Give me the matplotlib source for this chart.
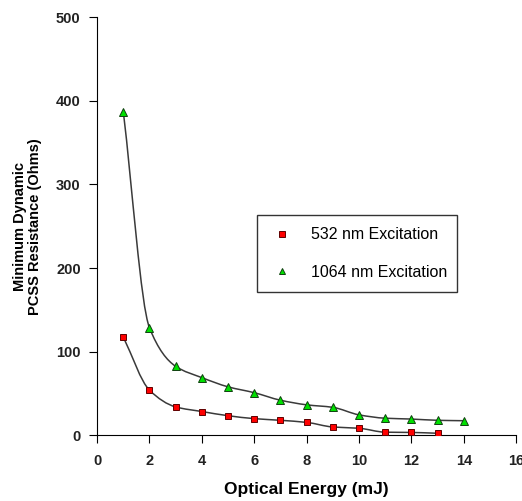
import numpy as np
import matplotlib.pyplot as plt
from matplotlib.path import Path
from matplotlib.patches import PathPatch

plt.rcParams['font.family'] = ['Liberation Sans', 'DejaVu Sans']

# dados
energia_532 = [1, 2, 3, 4, 5, 6, 7, 8, 9, 10, 11, 12, 13]
res_532 = [117.5, 54, 34, 28.5, 23.5, 20, 18, 15.5, 10, 8.5, 3.8, 3.5, 2.5]
energia_1064 = [1, 2, 3, 4, 5, 6, 7, 8, 9, 10, 11, 12, 13, 14]
res_1064 = [387, 128.5, 82.5, 69, 58, 51, 42, 36.5, 33.5, 24.5, 20.5, 19.5, 18, 17.5]


def curva_suave(x, y):
    # curva monotona (Fritsch-Carlson) desenhada como bezier
    x = np.asarray(x, float)
    y = np.asarray(y, float)
    h = np.diff(x)
    d = np.diff(y) / h
    m = np.zeros_like(y)
    m[0] = d[0]
    m[-1] = d[-1]
    for i in range(1, len(y) - 1):
        if d[i - 1] * d[i] <= 0:
            m[i] = 0
        else:
            w1 = 2 * h[i] + h[i - 1]
            w2 = h[i] + 2 * h[i - 1]
            m[i] = (w1 + w2) / (w1 / d[i - 1] + w2 / d[i])
    verts = [(x[0], y[0])]
    codes = [Path.MOVETO]
    for i in range(len(x) - 1):
        verts += [(x[i] + h[i] / 3, y[i] + m[i] * h[i] / 3),
                  (x[i + 1] - h[i] / 3, y[i + 1] - m[i + 1] * h[i] / 3),
                  (x[i + 1], y[i + 1])]
        codes += [Path.CURVE4] * 3
    return Path(verts, codes)


fig = plt.figure(figsize=(5.22, 5.01), dpi=100)
ax = fig.add_axes([0.186, 0.131, 0.803, 0.835])

for x, y in [(energia_532, res_532), (energia_1064, res_1064)]:
    ax.add_patch(PathPatch(curva_suave(x, y), facecolor='none',
                           edgecolor='#3a3a3a', lw=1.1, zorder=2))

ax.plot(energia_532, res_532, ls='none', marker='s', ms=5, mfc='#ff0000',
        mec='#600000', mew=0.7, label='532 nm Excitation', zorder=3)
ax.plot(energia_1064, res_1064, ls='none', marker='^', ms=5.8, mfc='#00e000',
        mec='#104010', mew=0.7, label='1064 nm Excitation', zorder=3)

ax.set_xlim(0, 16)
ax.set_ylim(0, 500)
ax.set_xticks(range(0, 17, 2))
ax.set_yticks(range(0, 501, 100))
ax.spines['top'].set_visible(False)
ax.spines['right'].set_visible(False)
ax.tick_params(direction='out', length=5.8, labelsize=10.5)
ax.tick_params(axis='x', pad=7.5)
ax.tick_params(axis='y', pad=6)
for t in ax.get_xticklabels() + ax.get_yticklabels():
    t.set_fontweight('bold')
    t.set_color('#222222')

ax.set_xlabel('Optical Energy (mJ)', fontsize=12.5, fontweight='bold', labelpad=10)
ax.set_ylabel('Minimum Dynamic\nPCSS Resistance (Ohms)', fontsize=10.5,
              fontweight='bold', linespacing=1.15)
ax.yaxis.set_label_coords(-0.131, 0.5)

leg = ax.legend(loc='upper left', bbox_to_anchor=(0.381, 0.351, 0.477, 0.175),
                mode='expand', fontsize=11.5, frameon=True, fancybox=False,
                edgecolor='black', borderpad=0.75, labelspacing=1.4,
                handlelength=1.6, handletextpad=1.05, markerscale=0.85,
                borderaxespad=0)
leg.get_frame().set_linewidth(1.0)

plt.savefig('out.png', dpi=100)
